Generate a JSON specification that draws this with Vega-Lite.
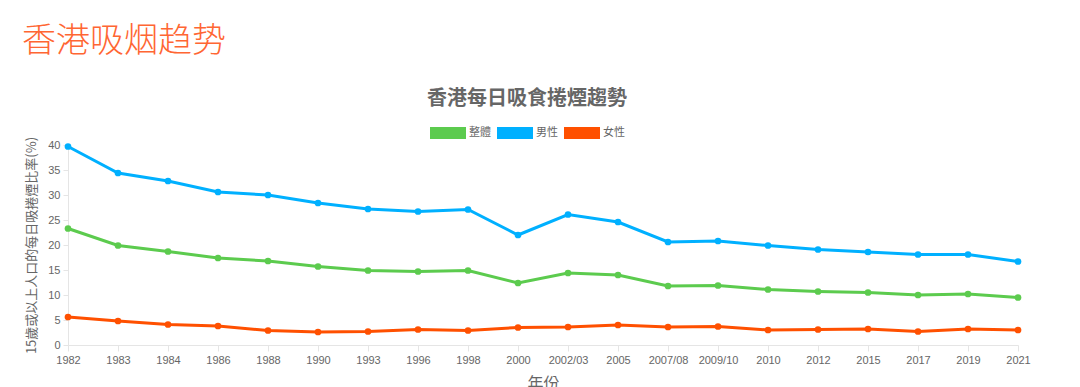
{
  "$schema": "https://vega.github.io/schema/vega-lite/v6.json",
  "width": 950,
  "height": 200,
  "autosize": {"type": "none"},
  "padding": {"left": 68, "top": 145, "right": 62, "bottom": 42},
  "background": "white",
  "title": {
    "text": "香港吸烟趋势",
    "anchor": "start",
    "frame": "group",
    "dx": -46,
    "offset": 30,
    "font": "Noto Sans CJK SC",
    "fontSize": 34,
    "fontWeight": 300,
    "color": "#FF6633"
  },
  "config": {
    "view": {"stroke": null},
    "axis": {
      "domainColor": "#e5e5e5",
      "tickColor": "#e5e5e5",
      "labelColor": "#666666",
      "labelFont": "Liberation Sans",
      "labelFontSize": 11,
      "titleColor": "#666666",
      "titleFont": "Noto Sans CJK TC",
      "titleFontWeight": "normal",
      "grid": false
    }
  },
  "data": {
    "values": [
      {"year": "1982", "series": "整體", "value": 23.3},
      {"year": "1983", "series": "整體", "value": 19.9},
      {"year": "1984", "series": "整體", "value": 18.7},
      {"year": "1986", "series": "整體", "value": 17.4},
      {"year": "1988", "series": "整體", "value": 16.8},
      {"year": "1990", "series": "整體", "value": 15.7},
      {"year": "1993", "series": "整體", "value": 14.9},
      {"year": "1996", "series": "整體", "value": 14.7},
      {"year": "1998", "series": "整體", "value": 14.9},
      {"year": "2000", "series": "整體", "value": 12.4},
      {"year": "2002/03", "series": "整體", "value": 14.4},
      {"year": "2005", "series": "整體", "value": 14.0},
      {"year": "2007/08", "series": "整體", "value": 11.8},
      {"year": "2009/10", "series": "整體", "value": 11.9},
      {"year": "2010", "series": "整體", "value": 11.1},
      {"year": "2012", "series": "整體", "value": 10.7},
      {"year": "2015", "series": "整體", "value": 10.5},
      {"year": "2017", "series": "整體", "value": 10.0},
      {"year": "2019", "series": "整體", "value": 10.2},
      {"year": "2021", "series": "整體", "value": 9.5},
      {"year": "1982", "series": "男性", "value": 39.7},
      {"year": "1983", "series": "男性", "value": 34.4},
      {"year": "1984", "series": "男性", "value": 32.8},
      {"year": "1986", "series": "男性", "value": 30.6},
      {"year": "1988", "series": "男性", "value": 30.0},
      {"year": "1990", "series": "男性", "value": 28.4},
      {"year": "1993", "series": "男性", "value": 27.2},
      {"year": "1996", "series": "男性", "value": 26.7},
      {"year": "1998", "series": "男性", "value": 27.1},
      {"year": "2000", "series": "男性", "value": 22.0},
      {"year": "2002/03", "series": "男性", "value": 26.1},
      {"year": "2005", "series": "男性", "value": 24.6},
      {"year": "2007/08", "series": "男性", "value": 20.6},
      {"year": "2009/10", "series": "男性", "value": 20.8},
      {"year": "2010", "series": "男性", "value": 19.9},
      {"year": "2012", "series": "男性", "value": 19.1},
      {"year": "2015", "series": "男性", "value": 18.6},
      {"year": "2017", "series": "男性", "value": 18.1},
      {"year": "2019", "series": "男性", "value": 18.1},
      {"year": "2021", "series": "男性", "value": 16.7},
      {"year": "1982", "series": "女性", "value": 5.6},
      {"year": "1983", "series": "女性", "value": 4.8},
      {"year": "1984", "series": "女性", "value": 4.1},
      {"year": "1986", "series": "女性", "value": 3.8},
      {"year": "1988", "series": "女性", "value": 2.9},
      {"year": "1990", "series": "女性", "value": 2.6},
      {"year": "1993", "series": "女性", "value": 2.7},
      {"year": "1996", "series": "女性", "value": 3.1},
      {"year": "1998", "series": "女性", "value": 2.9},
      {"year": "2000", "series": "女性", "value": 3.5},
      {"year": "2002/03", "series": "女性", "value": 3.6},
      {"year": "2005", "series": "女性", "value": 4.0},
      {"year": "2007/08", "series": "女性", "value": 3.6},
      {"year": "2009/10", "series": "女性", "value": 3.7},
      {"year": "2010", "series": "女性", "value": 3.0},
      {"year": "2012", "series": "女性", "value": 3.1},
      {"year": "2015", "series": "女性", "value": 3.2},
      {"year": "2017", "series": "女性", "value": 2.7},
      {"year": "2019", "series": "女性", "value": 3.2},
      {"year": "2021", "series": "女性", "value": 3.0}
    ]
  },
  "encoding": {
    "x": {
      "field": "year",
      "type": "ordinal",
      "sort": ["1982","1983","1984","1986","1988","1990","1993","1996","1998","2000","2002/03","2005","2007/08","2009/10","2010","2012","2015","2017","2019","2021"],
      "scale": {"type": "point", "padding": 0},
      "axis": {
        "title": "年份",
        "titleFontSize": 16,
        "titlePadding": 10,
        "labelAngle": 0,
        "tickSize": 6,
        "labelPadding": 3
      }
    },
    "y": {
      "field": "value",
      "type": "quantitative",
      "scale": {"domain": [0, 40], "nice": false},
      "axis": {
        "title": "15歲或以上人口的每日吸捲煙比率(%)",
        "titleFontSize": 13,
        "titlePadding": 9,
        "values": [0, 5, 10, 15, 20, 25, 30, 35, 40],
        "tickSize": 5,
        "labelPadding": 3
      }
    },
    "color": {
      "field": "series",
      "type": "nominal",
      "scale": {"domain": ["整體", "男性", "女性"], "range": ["#5CCB4E", "#00B0FF", "#FF5000"]},
      "legend": {
        "orient": "none",
        "legendX": 359,
        "legendY": -56,
        "direction": "horizontal",
        "title": "香港每日吸食捲煙趨勢",
        "titleFont": "Noto Sans CJK TC",
        "titleFontSize": 20,
        "titleFontWeight": "bold",
        "titleColor": "#666666",
        "titleLimit": 400,
        "titleAnchor": "middle",
        "titleAlign": "center",
        "titlePadding": 18,
        "symbolType": "M-1,-1H5V1H-1Z",
        "symbolSize": 144,
        "symbolOpacity": 1,
        "symbolStrokeWidth": 0,
        "labelFont": "Noto Sans CJK TC",
        "labelFontSize": 11,
        "labelColor": "#666666",
        "labelOffset": 27,
        "columnPadding": 6
      }
    }
  },
  "layer": [
    {
      "mark": {"type": "line", "strokeWidth": 3}
    },
    {
      "mark": {"type": "point", "filled": true, "size": 45, "opacity": 1}
    }
  ]
}
